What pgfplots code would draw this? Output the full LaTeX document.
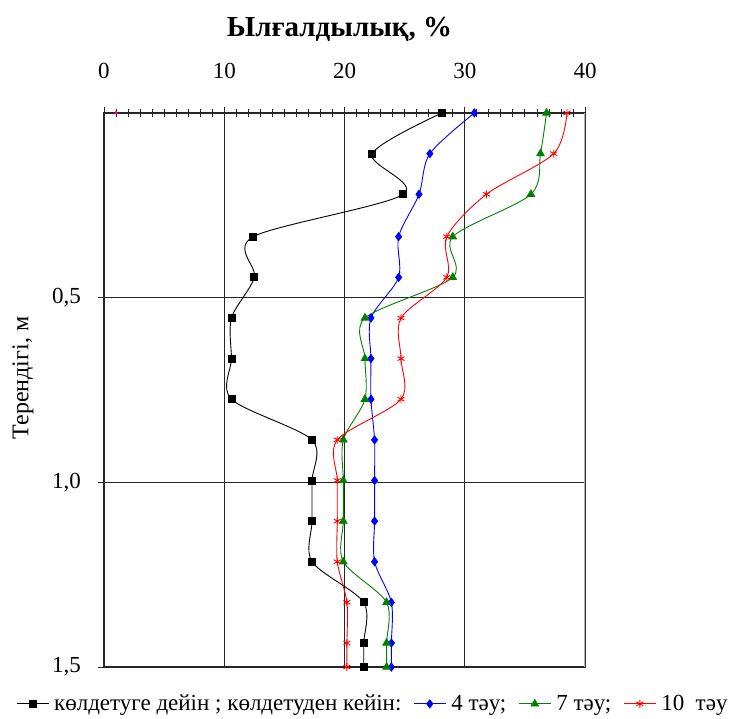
\documentclass[border=0pt]{standalone}
\usepackage{fontspec}
\setmainfont{Liberation Serif}
\usepackage{pgfplots}
\usepackage{pgfplotstable}
\pgfplotsset{compat=1.18}

\pgfplotstableread{
x y
28.1 0
22.3 0.11
24.9 0.22
12.4 0.335
12.5 0.445
10.6 0.555
10.6 0.665
10.6 0.775
17.3 0.885
17.3 0.995
17.3 1.105
17.3 1.215
21.6 1.325
21.6 1.435
21.6 1.5
}\before

\pgfplotstableread{
x y
30.8 0
27.1 0.11
26.2 0.22
24.5 0.335
24.5 0.445
22.2 0.555
22.2 0.665
22.2 0.775
22.5 0.885
22.5 0.995
22.5 1.105
22.5 1.215
23.9 1.325
23.9 1.435
23.9 1.5
}\dayfour

\pgfplotstableread{
x y
36.8 0
36.3 0.11
35.5 0.22
29.0 0.335
29.0 0.445
21.7 0.555
21.7 0.665
21.7 0.775
19.9 0.885
19.9 0.995
19.9 1.105
19.9 1.215
23.5 1.325
23.5 1.435
23.5 1.5
}\dayseven

\pgfplotstableread{
x y
38.5 0
37.4 0.11
31.8 0.22
28.5 0.335
28.5 0.445
24.7 0.555
24.7 0.665
24.7 0.775
19.4 0.885
19.4 0.995
19.4 1.105
19.4 1.215
20.2 1.325
20.2 1.435
20.2 1.5
}\dayten

\definecolor{dgreen}{RGB}{0,128,0}

\begin{document}
\begin{tikzpicture}
\begin{axis}[
  name=ax, at={(0,0)}, anchor=south west,
  scale only axis, width=481pt, height=554pt,
  xmin=0, xmax=40, ymin=0, ymax=1.5, y dir=reverse,
  xtick={0,10,20,30,40}, minor x tick num=9,
  ytick={0.5,1,1.5},
  xtick pos=upper, xticklabel pos=upper,
  ytick pos=lower, yticklabel pos=lower,
  tick align=center,
  major tick length=12pt, minor tick length=8pt,
  grid=major,
  major grid style={black!85, line width=1.2pt},
  axis line style={black!85, line width=1.2pt},
  every tick/.style={black!85, line width=0.8pt},
  /pgf/number format/assume math mode=true,
  y tick label style={/pgf/number format/use comma, /pgf/number format/fixed, /pgf/number format/fixed zerofill, /pgf/number format/precision=1},
  ticklabel style={font=\fontsize{23}{26}\selectfont, inner sep=0pt},
  xticklabel style={anchor=base, yshift=28pt},
  yticklabel style={anchor=east, xshift=-17pt},
  title={\textbf{Ылғалдылық, \%}},
  title style={font=\fontsize{29}{32}\selectfont, at={(0.5,1)}, anchor=base, yshift=70pt, xshift=-5pt},
  ylabel={Терендігі, м},
  ylabel style={font=\fontsize{24}{27}\selectfont, at={(rel axis cs:0,0.5)}, anchor=center, yshift=81pt, xshift=12pt},
  legend columns=4,
  legend style={draw=none, fill=none, at={(0.559,-0.047)}, anchor=north,
    font=\fontsize{23}{26}\selectfont, inner sep=0pt,
    /tikz/every odd column/.append style={column sep=3pt},
    /tikz/every even column/.append style={column sep=10pt}},
  legend image code/.code={\draw[mark repeat=2,mark phase=2] plot coordinates {(0pt,0pt) (16pt,0pt) (32pt,0pt)};},
]
\addplot[black, line width=0.9pt, smooth, tension=0.5, mark=square*, mark size=3.5pt, mark options={solid}] table[x=x,y=y] {\before};
\addlegendentry{көлдетуге дейін ; көлдетуден кейін:\hspace{36pt}}
\addplot[blue, line width=0.9pt, smooth, tension=0.5, mark=diamond*, mark size=4pt, mark options={solid}] table[x=x,y=y] {\dayfour};
\addlegendentry{4 тәу;}
\addplot[dgreen, line width=0.9pt, smooth, tension=0.5, mark=triangle*, mark size=4.3pt, mark options={solid}] table[x=x,y=y] {\dayseven};
\addlegendentry{7 тәу;\hspace{4pt}}
\addplot[red, line width=0.9pt, smooth, tension=0.5, mark=asterisk, mark size=4pt, mark options={solid}] table[x=x,y=y] {\dayten};
\addlegendentry{10\ \ тәу}
\addplot[magenta, only marks, mark=triangle*, mark size=2pt, forget plot] coordinates {(1,0)};
\draw[gray!60, line width=1.6pt] (rel axis cs:1,0) -- (rel axis cs:1,1);
\end{axis}
\path (ax.south west) ++(-104pt,-52pt) rectangle ++(738pt,719pt);
\end{tikzpicture}
\end{document}
